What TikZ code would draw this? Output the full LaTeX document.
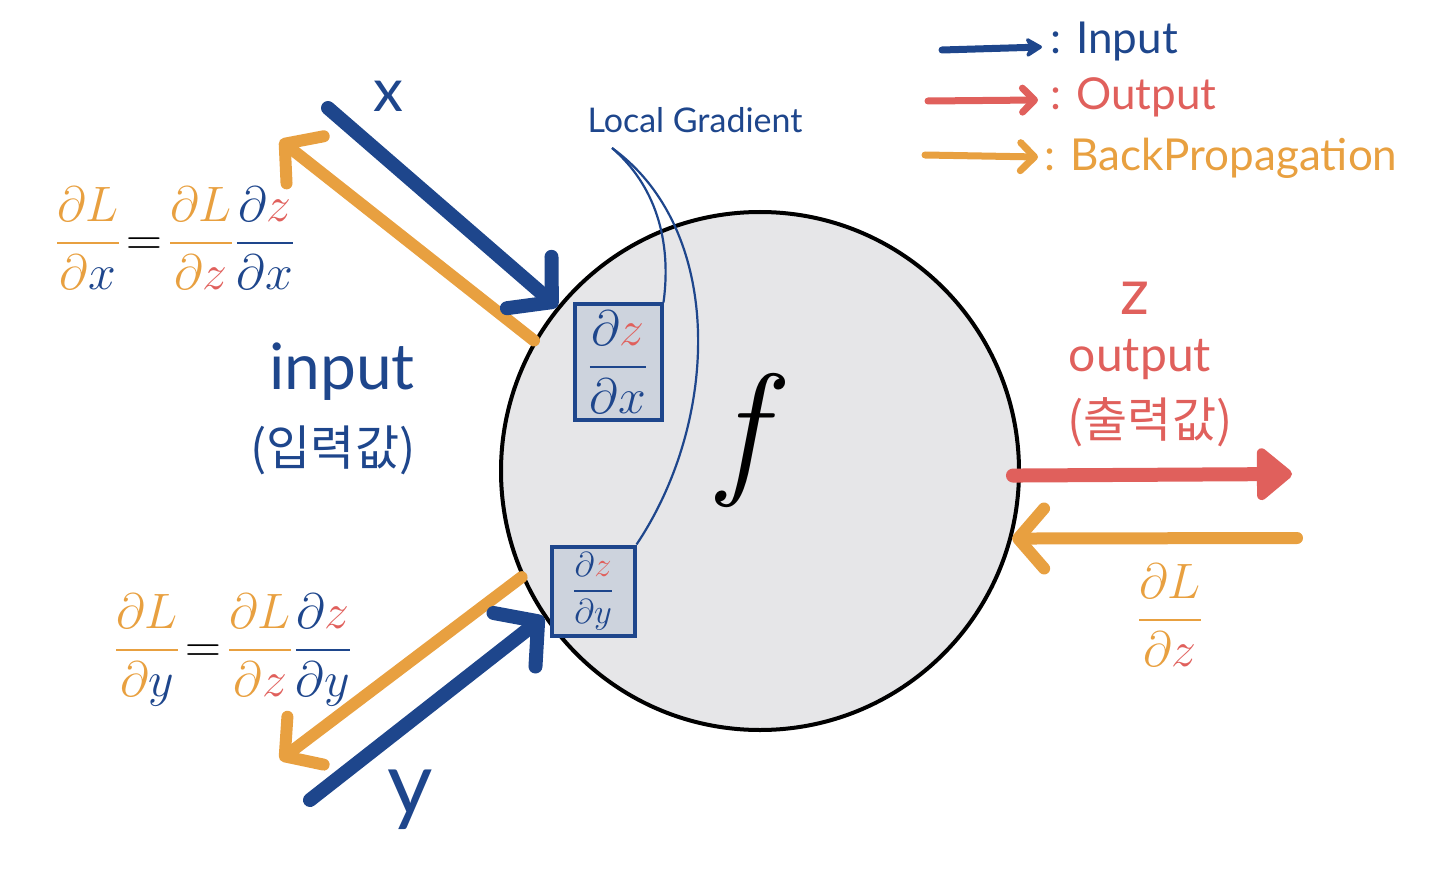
\documentclass[tikz,border=0pt]{standalone}
\usepackage{fontspec}
\usepackage{amsmath}
\setmainfont{Lato}
\newfontfamily\krfont{Noto Sans CJK KR}
\newfontfamily\lmfont{Latin Modern Roman}
\usetikzlibrary{positioning,arrows.meta,calc}

\definecolor{inblue}{HTML}{1E468C}
\definecolor{outred}{HTML}{E0605C}
\definecolor{backorange}{HTML}{E8A040}
\definecolor{nodegray}{HTML}{E6E6E8}
\definecolor{boxgray}{HTML}{CDD3DD}

% coloured partial fraction: bar colour, numerator d colour, numerator, denominator d colour, denominator
\newcommand{\gradfrac}[5]{{\color{#1}\dfrac{\textcolor{#2}{\partial}#3}{\textcolor{#4}{\partial}#5}}}

\tikzset{
  inarrow/.style={draw=inblue, line width=7pt, line cap=round, -{Straight Barb[round,length=15pt,width=34pt]}},
  backarrow/.style={draw=backorange, line width=6pt, line cap=round, -{Straight Barb[round,length=13pt,width=30pt]}},
  outarrow/.style={draw=outred, line width=7pt, line cap=round, -{Triangle[round,length=19pt,width=30pt]}},
  keyarrow/.style={line width=3.5pt, line cap=round},
  gradbox/.style={draw=inblue, line width=2pt, fill=boxgray, inner sep=0pt},
  lgline/.style={draw=inblue, line width=1.1pt},
  hand/.style={inner sep=0pt},
}

\begin{document}
\begin{tikzpicture}[x=0.5pt, y=-0.5pt]
% x, y in pixels of a 1440 x 882 sheet, y counted downwards
\useasboundingbox (0,0) rectangle (1440,882);

% the function node
\node[circle, draw=black, line width=2pt, fill=nodegray, minimum size=259pt, inner sep=0pt] (fnode) at (760,471) {};
\node[hand, font=\lmfont\itshape\fontsize{74}{80}\selectfont] (flab) at (742,440) {f};

% local gradients
\node[gradbox, minimum width=43.5pt, minimum height=57.5pt, font=\fontsize{24}{28}\selectfont] (gx) at (618,362)
  {$\gradfrac{inblue}{inblue}{\textcolor{outred}{z}}{inblue}{x}$};
\node[gradbox, minimum width=41.5pt, minimum height=44.5pt, font=\fontsize{19}{22}\selectfont] (gy) at (593,591)
  {$\gradfrac{inblue}{inblue}{\textcolor{outred}{z}}{inblue}{y}$};
\node[hand, inblue, font=\fontsize{17}{20}\selectfont] (lg) at (695,120) {Local Gradient};
\coordinate (lgfoot) at (612,148);
\draw[lgline] (lgfoot) .. controls (655,185) and (672,240) .. (gx.north east);
\draw[lgline] (lgfoot) .. controls (725,230) and (720,420) .. (gy.north east);

% inputs and their gradients
\coordinate (xtail) at (328,108);
\coordinate (xback) at (280,140);
\coordinate (ytail) at (310,800);
\coordinate (yback) at (280,760);
\draw[backarrow] (fnode.150) -- (xback);
\draw[inarrow] (xtail) -- (fnode.141);
\draw[backarrow] (fnode.204) -- (yback);
\draw[inarrow] (ytail) -- (fnode.214);

\node[hand, inblue, font=\fontsize{30}{34}\selectfont] (xlab) at (388,96) {x};
\node[hand, inblue, font=\fontsize{44}{50}\selectfont] (ylab) at (410,800) {y};
\node[hand, inblue, font=\fontsize{32}{38}\selectfont] (inlab) at (342,372) {input};
\node[hand, inblue, font=\krfont\fontsize{24}{28}\selectfont] (inkr) at (333,450) {(입력값)};

\node[hand, font=\fontsize{26}{30}\selectfont] (eqx) at (175,238)
  {$\gradfrac{backorange}{backorange}{L}{backorange}{\textcolor{inblue}{x}}\!=\!\gradfrac{backorange}{backorange}{L}{backorange}{\textcolor{outred}{z}}\gradfrac{inblue}{inblue}{\textcolor{outred}{z}}{inblue}{x}$};
\node[hand, font=\fontsize{26}{30}\selectfont] (eqy) at (233,650)
  {$\gradfrac{backorange}{backorange}{L}{backorange}{\textcolor{inblue}{y}}\!=\!\gradfrac{backorange}{backorange}{L}{backorange}{\textcolor{outred}{z}}\gradfrac{inblue}{inblue}{\textcolor{outred}{z}}{inblue}{y}$};

% output and its gradient
\coordinate (zout) at (1292,474);
\coordinate (zback) at (1297,538);
\draw[outarrow] ([xshift=-4pt]fnode.-1) -- (zout);
\draw[backarrow] (zback) -- (fnode.-15);

\node[hand, outred, font=\fontsize{32}{38}\selectfont] (zlab) at (1135,298) {z};
\node[hand, outred, font=\fontsize{24}{28}\selectfont] (outlab) at (1140,360) {output};
\node[hand, outred, font=\krfont\fontsize{24}{28}\selectfont] (outkr) at (1150,422) {(출력값)};
\node[hand, font=\fontsize{30}{34}\selectfont] (dldz) at (1170,615)
  {$\gradfrac{backorange}{backorange}{L}{backorange}{\textcolor{outred}{z}}$};

% key
\coordinate (keyina) at (942,50);  \coordinate (keyinb) at (1042,47);
\coordinate (keyouta) at (928,101); \coordinate (keyoutb) at (1038,100);
\coordinate (keybacka) at (925,155); \coordinate (keybackb) at (1038,157);
\draw[keyarrow, inblue, -{Stealth[round,length=10pt,width=12pt]}] (keyina) -- (keyinb);
\draw[keyarrow, outred, -{Straight Barb[round,length=6pt,width=12pt]}] (keyouta) -- (keyoutb);
\draw[keyarrow, backorange, -{Straight Barb[round,length=7pt,width=14pt]}] (keybacka) -- (keybackb);
\node[hand, inblue, anchor=west, font=\fontsize{22}{26}\selectfont] (keyin) at (1050,42) {: Input};
\node[hand, outred, anchor=west, font=\fontsize{22}{26}\selectfont] (keyout) at (1050,97) {: Output};
\node[hand, backorange, anchor=west, font=\fontsize{22}{26}\selectfont] (keyback) at (1044,158) {: BackPropagation};
\end{tikzpicture}
\end{document}
